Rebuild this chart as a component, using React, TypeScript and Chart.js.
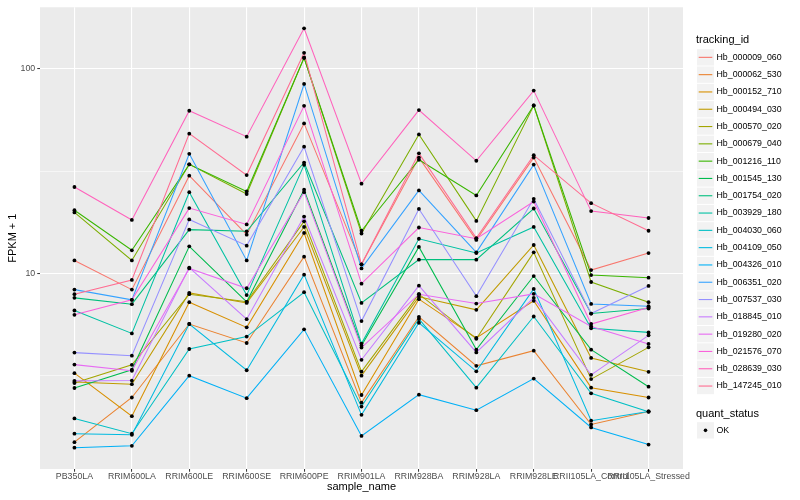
import React, { useEffect, useRef } from "react";
import { Chart, registerables } from "chart.js";

Chart.register(...registerables);

const categories = [
  "PB350LA", "RRIM600LA", "RRIM600LE", "RRIM600SE", "RRIM600PE", "RRIM901LA",
  "RRIM928BA", "RRIM928LA", "RRIM928LE", "RRII105LA_Control", "RRII105LA_Stressed",
];

const trackingIds = [
  "Hb_000009_060", "Hb_000062_530", "Hb_000152_710", "Hb_000494_030", "Hb_000570_020",
  "Hb_000679_040", "Hb_001216_110", "Hb_001545_130", "Hb_001754_020", "Hb_003929_180",
  "Hb_004030_060", "Hb_004109_050", "Hb_004326_010", "Hb_006351_020", "Hb_007537_030",
  "Hb_018845_010", "Hb_019280_020", "Hb_021576_070", "Hb_028639_030", "Hb_147245_010",
];

const seriesColors = [
  "#F8766D", "#EA8331", "#D89000", "#C09B00", "#A3A500",
  "#7CAE00", "#39B600", "#00BB4E", "#00BF7D", "#00C1A3",
  "#00BFC4", "#00BAE0", "#00B0F6", "#35A2FF", "#9590FF",
  "#C77CFF", "#E76BF3", "#FA62DB", "#FF62BC", "#FF6C91",
];

const hb_000009_060 = [11.6, 8.35, 30.1, 15.5, 54.2, 11.1, 36.9, 14.6, 36.9, 10.4, 12.6];
const hb_000062_530 = [1.5, 2.48, 5.67, 4.58, 12.1, 2.34, 6.15, 3.54, 4.2, 1.83, 2.12];
const hb_000152_710 = [3.26, 2.01, 7.25, 5.46, 15.8, 2.55, 7.5, 4.85, 7.36, 2.77, 2.48];
const hb_000494_030 = [2.95, 2.88, 8.05, 7.19, 16.9, 3.17, 7.7, 6.65, 13.8, 3.87, 3.31];
const hb_000570_020 = [2.92, 3.58, 7.93, 7.28, 18.0, 3.32, 7.93, 4.8, 12.7, 3.05, 4.36];
const hb_000679_040 = [19.9, 11.6, 34.2, 24.5, 113.5, 15.7, 47.9, 18.1, 66.3, 9.1, 7.25];
const hb_001216_110 = [20.4, 13.0, 34.2, 25.2, 113.5, 16.2, 36.0, 24.1, 66.3, 9.84, 9.55];
const hb_001545_130 = [2.76, 3.39, 13.6, 7.28, 25.7, 4.45, 13.5, 4.25, 9.73, 4.25, 2.8];
const hb_001754_020 = [7.61, 7.09, 16.4, 16.1, 34.9, 7.19, 11.7, 11.7, 20.8, 6.38, 6.75];
const hb_003929_180 = [6.6, 5.1, 25.0, 7.85, 34.0, 4.55, 14.8, 12.6, 16.9, 5.4, 5.16];
const hb_004030_060 = [1.96, 1.65, 4.28, 4.92, 8.11, 2.24, 6.0, 2.77, 6.17, 2.6, 2.11];
const hb_004109_050 = [1.65, 1.63, 5.67, 3.37, 9.88, 2.04, 5.75, 3.33, 8.42, 1.91, 2.12];
const hb_004326_010 = [1.41, 1.44, 3.17, 2.46, 5.34, 1.61, 2.56, 2.15, 3.07, 1.77, 1.46];
const hb_006351_020 = [8.35, 7.44, 38.5, 11.6, 84.5, 10.6, 25.5, 12.7, 34.1, 7.11, 6.93];
const hb_007537_030 = [4.11, 3.97, 18.4, 13.7, 41.7, 5.86, 20.7, 7.76, 23.2, 6.38, 8.7];
const hb_018845_010 = [2.99, 3.0, 10.7, 5.99, 19.0, 3.79, 8.73, 4.12, 7.61, 3.2, 4.99];
const hb_019280_020 = [3.59, 3.35, 10.6, 8.48, 25.0, 4.35, 7.93, 7.14, 7.96, 5.52, 4.53];
const hb_021576_070 = [6.29, 7.44, 20.9, 17.4, 66.1, 8.93, 16.8, 14.8, 22.5, 5.67, 6.83];
const hb_028639_030 = [26.5, 18.3, 62.5, 46.7, 158, 27.5, 63.0, 35.6, 78.4, 20.2, 18.7];
const hb_147245_010 = [7.93, 9.31, 48.3, 30.3, 120, 11.1, 38.7, 14.9, 37.9, 22.1, 16.2];

const seriesValues = [
  hb_000009_060, hb_000062_530, hb_000152_710, hb_000494_030, hb_000570_020,
  hb_000679_040, hb_001216_110, hb_001545_130, hb_001754_020, hb_003929_180,
  hb_004030_060, hb_004109_050, hb_004326_010, hb_006351_020, hb_007537_030,
  hb_018845_010, hb_019280_020, hb_021576_070, hb_028639_030, hb_147245_010,
];

const yBreaks = [3.1623, 10, 31.623, 100];
const yBreakLabels = ["", "10", "", "100"];
const yMajor = [false, true, false, true];
const quantStatus = ["OK"];

const FONT = "'Liberation Sans', Arial, Helvetica, sans-serif";

const ggPlugin = {
  id: "ggStyle",
  beforeDraw(chart: any) {
    const { ctx, chartArea: a } = chart;
    ctx.save();
    ctx.fillStyle = "#FFFFFF";
    ctx.fillRect(0, 0, chart.width, chart.height);
    ctx.fillStyle = "#EBEBEB";
    ctx.fillRect(a.left, a.top, a.right - a.left, a.bottom - a.top);
    ctx.restore();
  },
  afterDraw(chart: any) {
    const ctx = chart.ctx;
    ctx.save();
    const kx = 697;
    const kw = 17;
    const kh = 17.3;
    const top0 = 48.7;
    const tx = 716.5;
    ctx.fillStyle = "#000000";
    ctx.textAlign = "left";
    ctx.textBaseline = "alphabetic";
    ctx.font = `11px ${FONT}`;
    ctx.fillText("tracking_id", 696, 42.7);
    trackingIds.forEach((id, i) => {
      const y0 = top0 + i * kh;
      ctx.fillStyle = "#F2F2F2";
      ctx.fillRect(kx, y0 + 0.5, kw, kh - 1);
      ctx.strokeStyle = seriesColors[i];
      ctx.lineWidth = 1.1;
      ctx.beginPath();
      ctx.moveTo(kx + 1.7, y0 + kh / 2);
      ctx.lineTo(kx + kw - 1.7, y0 + kh / 2);
      ctx.stroke();
      ctx.fillStyle = "#000000";
      ctx.font = `8.8px ${FONT}`;
      ctx.textBaseline = "middle";
      ctx.fillText(id, tx, y0 + kh / 2);
    });
    ctx.textBaseline = "alphabetic";
    ctx.font = `11px ${FONT}`;
    ctx.fillStyle = "#000000";
    ctx.fillText("quant_status", 696, 416.5);
    quantStatus.forEach((q, i) => {
      const y0 = 421.7 + i * kh;
      ctx.fillStyle = "#F2F2F2";
      ctx.fillRect(kx, y0 + 0.5, kw, kh - 1);
      ctx.fillStyle = "#000000";
      ctx.beginPath();
      ctx.arc(kx + kw / 2, y0 + kh / 2, 1.8, 0, Math.PI * 2);
      ctx.fill();
      ctx.font = `8.8px ${FONT}`;
      ctx.textBaseline = "middle";
      ctx.fillText(q, tx, y0 + kh / 2);
    });
    ctx.restore();
  },
};

export default function App() {
  const ref = useRef<HTMLCanvasElement | null>(null);

  useEffect(() => {
    document.body.style.margin = "0";
    if (!ref.current) return;

    const lineSets = seriesValues.map((vals, i) => ({
      type: "line" as const,
      label: trackingIds[i],
      data: vals.map((v, j) => ({ x: j, y: v })),
      borderColor: seriesColors[i],
      backgroundColor: seriesColors[i],
      borderWidth: 1.05,
      pointRadius: 0,
      tension: 0,
      fill: false,
      order: 100 - i,
    }));

    const pointSet = {
      type: "line" as const,
      label: "points",
      data: seriesValues.flatMap((vals) => vals.map((v, j) => ({ x: j, y: v }))),
      showLine: false,
      pointRadius: 1.9,
      pointBorderWidth: 0,
      pointBackgroundColor: "#000000",
      pointBorderColor: "#000000",
      order: 0,
    };

    const chart = new Chart(ref.current, {
      type: "line",
      data: { datasets: [...lineSets, pointSet] as any },
      options: {
        responsive: false,
        animation: false,
        events: [],
        layout: { padding: { top: 5, right: 117, left: 0, bottom: 0 } },
        plugins: {
          legend: { display: false },
          tooltip: { enabled: false },
        },
        scales: {
          x: {
            type: "linear",
            min: -0.6,
            max: categories.length - 1 + 0.6,
            afterBuildTicks: (s: any) => {
              s.ticks = categories.map((_, i) => ({ value: i }));
            },
            afterFit: (s: any) => {
              s.height = 31;
            },
            ticks: {
              callback: (v: any) => categories[Math.round(Number(v))],
              autoSkip: false,
              maxRotation: 0,
              minRotation: 0,
              padding: 0,
              color: "#4D4D4D",
              font: { family: FONT, size: 8.8 },
            },
            grid: {
              color: "#FFFFFF",
              lineWidth: 1.1,
              tickLength: 2.75,
              tickColor: "#333333",
              tickWidth: 1,
            },
            border: { display: false },
            title: {
              display: true,
              text: "sample_name",
              color: "#000000",
              font: { family: FONT, size: 11 },
              padding: { top: 0, bottom: 6 },
            },
          },
          y: {
            type: "logarithmic",
            min: 1.109,
            max: 200.3,
            afterBuildTicks: (s: any) => {
              s.ticks = yBreaks.map((v, i) => ({ value: v, major: yMajor[i] }));
            },
            afterFit: (s: any) => {
              s.width = 40;
            },
            ticks: {
              callback: (_v: any, i: number) => yBreakLabels[i],
              autoSkip: false,
              padding: 2,
              color: "#4D4D4D",
              font: { family: FONT, size: 8.8 },
            },
            grid: {
              color: "#FFFFFF",
              lineWidth: (c: any) => (yMajor[c.index] ? 1.1 : 0.55),
              tickLength: 2.75,
              tickColor: (c: any) => (yMajor[c.index] ? "#333333" : "rgba(0,0,0,0)"),
              tickWidth: 1,
            },
            border: { display: false },
            title: {
              display: true,
              text: "FPKM + 1",
              color: "#000000",
              font: { family: FONT, size: 11 },
              padding: { top: 6, bottom: 0 },
            },
          },
        },
      } as any,
      plugins: [ggPlugin],
    });

    return () => chart.destroy();
  }, []);

  return (
    <canvas
      ref={ref}
      width={800}
      height={500}
      style={{ position: "absolute", left: 0, top: 0, width: 800, height: 500 }}
    />
  );
}
